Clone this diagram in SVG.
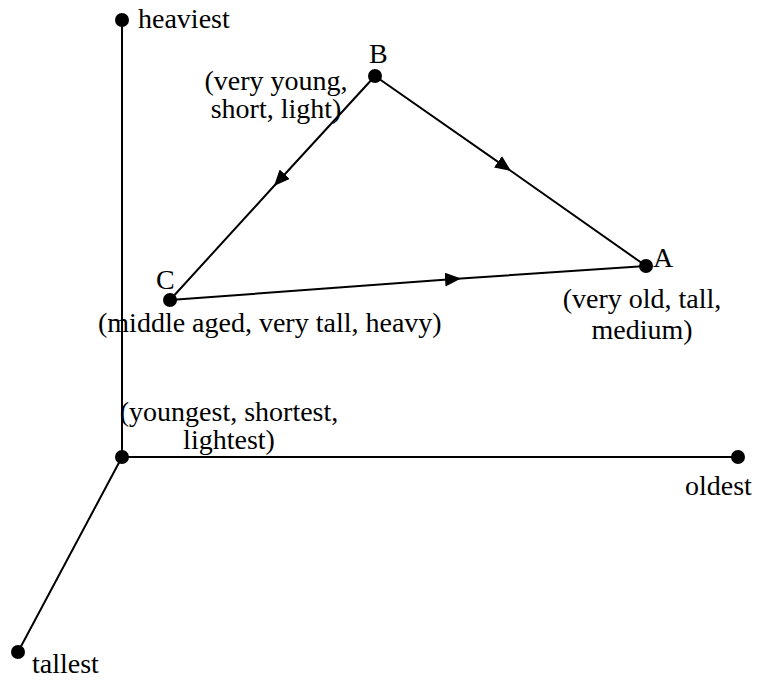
<svg xmlns="http://www.w3.org/2000/svg" width="758" height="681" viewBox="0 0 758 681">
<style>
text{font-family:"Liberation Serif","Times New Roman",serif;font-size:28px;fill:#000}
.ax{stroke:#000;stroke-width:2;fill:none}
.ed{stroke:#000;stroke-width:2;fill:none;marker-mid:url(#arr)}
.dot{fill:#000}
.c{text-anchor:middle}
</style>
<defs>
<marker id="arr" markerUnits="userSpaceOnUse" viewBox="0 0 16 14" refX="16" refY="7" markerWidth="16" markerHeight="14" orient="auto">
<path d="M0,0 L16,7 L0,14 z" fill="#000"/>
</marker>
</defs>
<g id="connectors">
<line class="ax" x1="122" y1="20" x2="122" y2="457"/>
<line class="ax" x1="122" y1="457" x2="738" y2="457"/>
<line class="ax" x1="122" y1="457" x2="18" y2="652"/>
<path class="ed" d="M375,76 L511,171 L646,266"/>
<path class="ed" d="M375,76 L274,186 L170,300"/>
<path class="ed" d="M170,300 L461,278.5 L646,266"/>
</g>
<g id="node-heaviest"><circle class="dot" cx="122" cy="20" r="7"/><text x="138" y="28">heaviest</text></g>
<g id="node-origin"><circle class="dot" cx="122" cy="457" r="7"/><text class="c" x="229" y="421">(youngest, shortest,</text><text class="c" x="229" y="449">lightest)</text></g>
<g id="node-oldest"><circle class="dot" cx="738" cy="457" r="7"/><text x="685" y="495">oldest</text></g>
<g id="node-tallest"><circle class="dot" cx="18" cy="652" r="7"/><text x="32" y="673">tallest</text></g>
<g id="node-B"><circle class="dot" cx="375" cy="76" r="7"/><text x="369" y="63">B</text><text class="c" x="276" y="90">(very young,</text><text class="c" x="276" y="118">short, light)</text></g>
<g id="node-C"><circle class="dot" cx="170" cy="300" r="7"/><text x="156" y="289">C</text><text x="98" y="332">(middle aged, very tall, heavy)</text></g>
<g id="node-A"><circle class="dot" cx="646" cy="266" r="7"/><text x="653" y="267">A</text><text class="c" x="642" y="308">(very old, tall,</text><text class="c" x="642" y="339">medium)</text></g>
</svg>
